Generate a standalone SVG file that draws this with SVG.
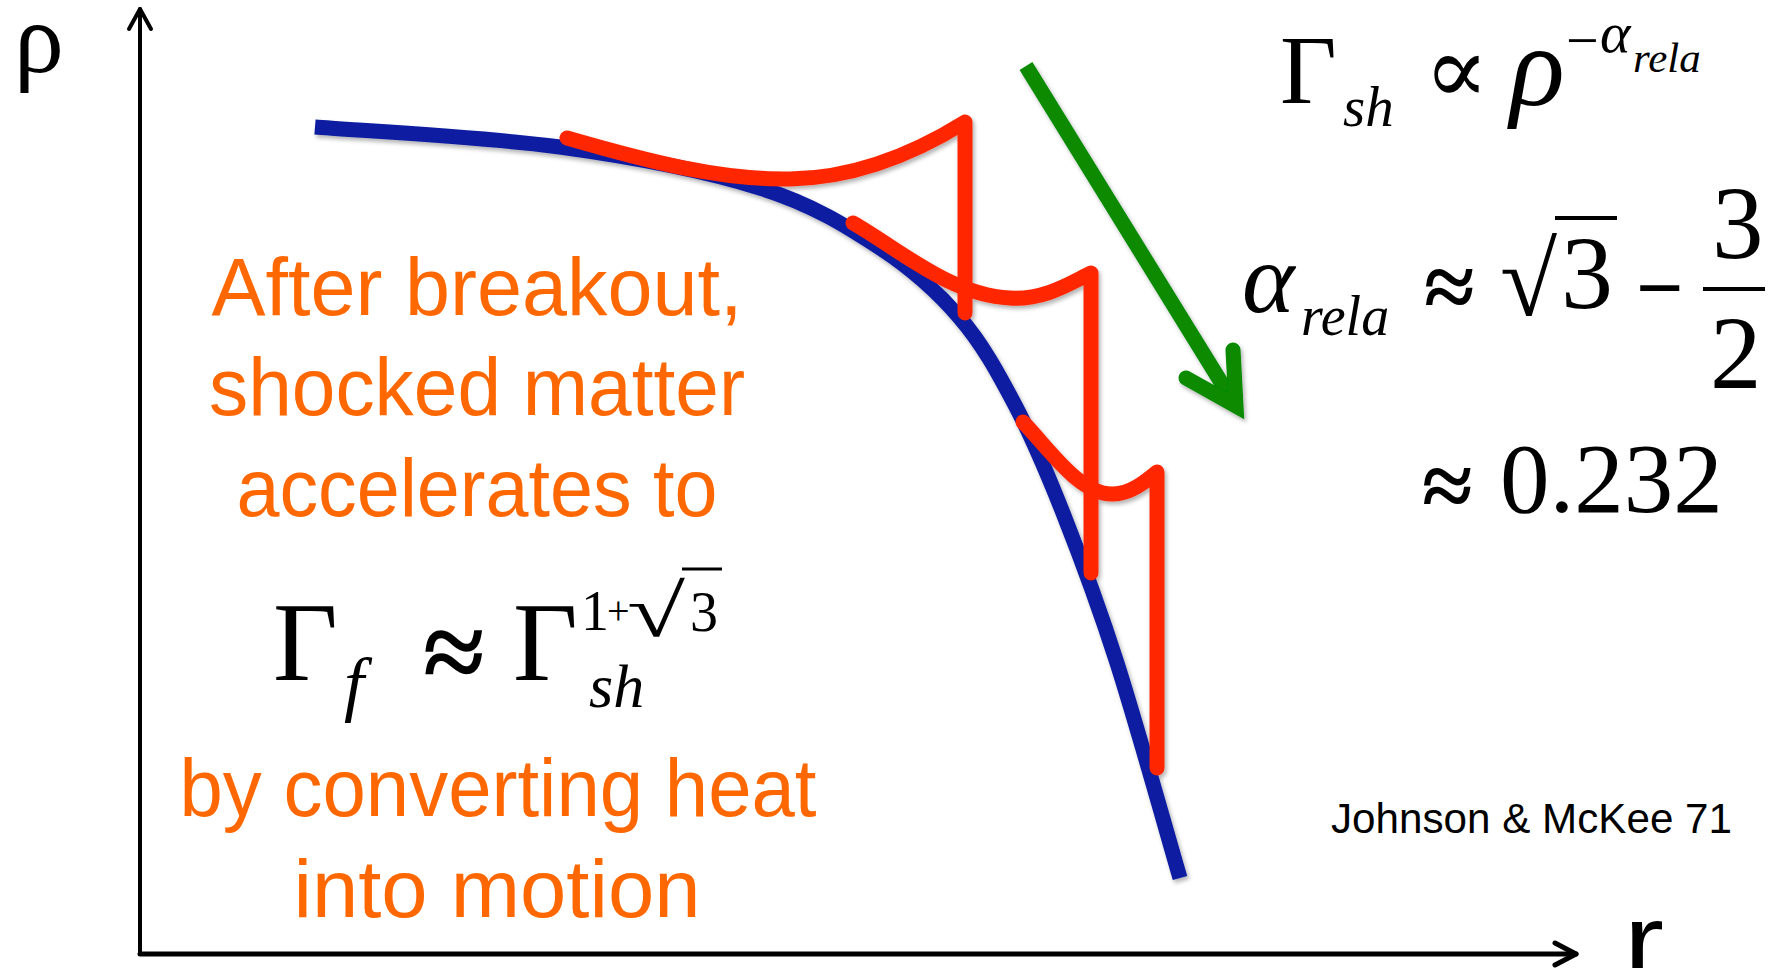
<svg xmlns="http://www.w3.org/2000/svg" width="1779" height="968" viewBox="0 0 1779 968">
<style>
.serif{font-family:"Liberation Serif","DejaVu Serif",serif;fill:#000}
.it{font-style:italic}
.bold{font-weight:bold}
.orange{font-family:"Liberation Sans",Arial,sans-serif;fill:#FF6700;font-size:81px;text-anchor:middle}
.sans{font-family:"Liberation Sans",Arial,sans-serif;fill:#000}
.axis{stroke:#000;fill:none;stroke-linecap:round;stroke-linejoin:round}
.blue{stroke:#0A1AA0;stroke-width:15;fill:none;stroke-linecap:butt}
.red{stroke:#FF2800;stroke-width:15;fill:none;stroke-linecap:round;stroke-linejoin:round}
.green{stroke:#078A00;stroke-width:15;fill:none}
</style>
<defs>
<filter id="shadow" x="-10%" y="-10%" width="120%" height="120%">
<feDropShadow dx="2" dy="3" stdDeviation="2" flood-color="#000" flood-opacity="0.3"/>
</filter>
</defs>
<rect width="1779" height="968" fill="#fff"/>

<g id="axes">
<line class="axis" x1="140" y1="954" x2="140" y2="9" stroke-width="4"/>
<polyline class="axis" points="129,29 140,9 151,29" stroke-width="4"/>
<line class="axis" x1="140" y1="954" x2="1576" y2="954" stroke-width="5"/>
<polyline class="axis" points="1555,943 1576,954 1555,965" stroke-width="5"/>
<text class="serif" x="14" y="72" font-size="100">ρ</text>
<text class="sans" x="1624" y="975" font-size="100" textLength="40" lengthAdjust="spacingAndGlyphs">r</text>
</g>

<g id="connectors" filter="url(#shadow)">
<path id="density-profile" class="blue" d="M315,127 C355.8,130.3 485.8,136.8 560,147 C634.2,157.2 706.7,171.2 760,188 C813.3,204.8 846.7,226.3 880,248 C913.3,269.7 937.5,291.8 960,318 C982.5,344.2 997.8,372.5 1015,405 C1032.2,437.5 1046,470 1063,513 C1080,556 1097.5,602.2 1117,663 C1136.5,723.8 1169.5,842.2 1180,878"/>
<path id="shock-1" class="red" d="M567,138 C650,162 720,180 790,179 C860,178 920,150 965,122 L965,313"/>
<path id="shock-2" class="red" d="M853,223 C900,250 950,295 1010,298 C1045,300 1070,283 1091,273 L1091,573"/>
<path id="shock-3" class="red" d="M1023,422 C1050,450 1080,495 1113,494 C1130,494 1145,482 1157,472 L1157,768"/>
<g id="time-arrow">
<line class="green" x1="1026" y1="66" x2="1232" y2="400" stroke-linecap="butt"/>
<polyline class="green" points="1233,350 1236,406 1186,378" stroke-linecap="round" stroke-linejoin="miter" stroke-miterlimit="10"/>
</g>
</g>

<g id="label-text">
<text class="orange" x="477" y="315" textLength="531" lengthAdjust="spacingAndGlyphs">After breakout,</text>
<text class="orange" x="477" y="415" textLength="536" lengthAdjust="spacingAndGlyphs">shocked matter</text>
<text class="orange" x="477" y="516" textLength="481" lengthAdjust="spacingAndGlyphs">accelerates to</text>
<text class="orange" x="498" y="816" textLength="637" lengthAdjust="spacingAndGlyphs">by converting heat</text>
<text class="orange" x="497" y="917" textLength="407" lengthAdjust="spacingAndGlyphs">into motion</text>
</g>

<g id="eq-final-lorentz">
<text class="serif" x="273" y="680" font-size="112">Γ</text>
<text class="serif it" x="344" y="708" font-size="72">f</text>
<text class="serif bold" x="423" y="690" font-size="112">≈</text>
<text class="serif" x="513" y="680" font-size="112">Γ</text>
<text class="serif" x="581" y="630" font-size="56">1</text>
<text class="serif" x="607" y="624" font-size="40">+</text>
<text class="serif" x="627" y="636" font-size="74" textLength="58" lengthAdjust="spacingAndGlyphs">√</text>
<line x1="682" y1="569" x2="722" y2="569" stroke="#000" stroke-width="3"/>
<text class="serif" x="690" y="631" font-size="56">3</text>
<text class="serif it" x="589" y="707" font-size="62">sh</text>
</g>

<g id="eq-shock-lorentz">
<text class="serif" x="1280" y="103" font-size="98">Γ</text>
<text class="serif it" x="1343" y="126" font-size="57">sh</text>
<text class="serif" x="1424" y="103" font-size="96">∝</text>
<text class="serif it" x="1510" y="105" font-size="114">ρ</text>
<text class="serif" x="1566" y="60" font-size="58">−</text>
<text class="serif it" x="1600" y="52" font-size="58">α</text>
<text class="serif it" x="1633" y="72" font-size="43">rela</text>
</g>

<g id="eq-alpha">
<text class="serif it" x="1242" y="312" font-size="100">α</text>
<text class="serif it" x="1301" y="335" font-size="56">rela</text>
<text class="serif bold" x="1424" y="318" font-size="92">≈</text>
<text class="serif" x="1500" y="315" font-size="104">√</text>
<line x1="1555" y1="218" x2="1617" y2="218" stroke="#000" stroke-width="4"/>
<text class="serif" x="1561" y="308" font-size="104">3</text>
<text class="serif bold" x="1636" y="316" font-size="84">−</text>
<line x1="1703" y1="289" x2="1765" y2="289" stroke="#000" stroke-width="4"/>
<text class="serif" x="1712" y="258" font-size="103">3</text>
<text class="serif" x="1710" y="388" font-size="103">2</text>
</g>

<g id="eq-value">
<text class="serif bold" x="1422" y="517" font-size="92">≈</text>
<text class="serif" x="1500" y="512" font-size="99">0.232</text>
</g>

<g id="citation">
<text class="sans" x="1331" y="833" font-size="42" textLength="401" lengthAdjust="spacingAndGlyphs">Johnson &amp; McKee 71</text>
</g>
</svg>
